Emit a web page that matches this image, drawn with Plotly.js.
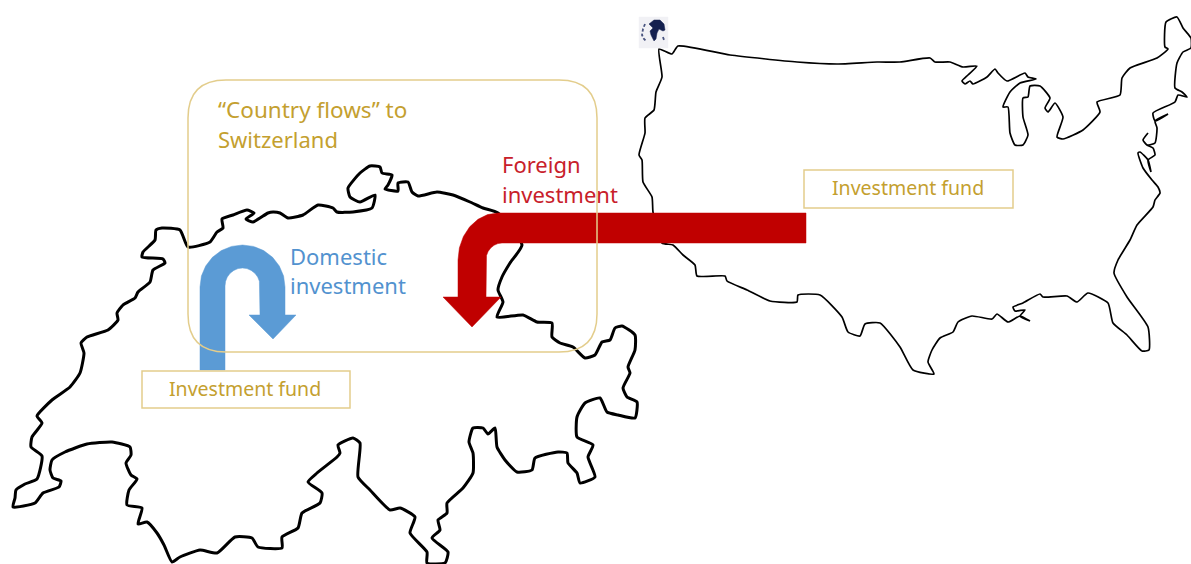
<!DOCTYPE html>
<html><head><meta charset="utf-8">
<script src="https://cdn.plot.ly/plotly-3.0.1.min.js"></script>
<style>html,body{margin:0;padding:0;background:#fff}#c{width:1191px;height:564px}</style>
</head><body><div id="c"></div>
<script>
const swissX=[13,15,16,25,37,42,31,32,42,37,52,70,80,84,81,87,108,118,117,123,135,138,150,153,165,163,142,143,155,156,162,180,188,210,217,223,222,233,247,254,246,253,268,273,280,288,303,318,333,337,353,372,375,360,350,348,360,370,380,382,392,388,385,398,398,408,412,418,437,453,470,483,498,522,510,502,498,503,497,523,537,552,552,560,573,585,595,602,610,615,622,635,635,628,630,623,627,637,635,618,607,600,585,577,577,593,588,595,580,577,568,567,558,535,532,517,505,497,495,488,483,473,469,473,473,463,447,447,438,440,432,448,445,427,427,410,415,400,390,370,358,360,353,338,340,337,317,308,322,320,302,298,282,282,258,252,235,217,200,180,172,164,157,147,138,142,127,129,137,131,126,131,130,112,87,65,52,50,53,61,59,43,35,13];
const swissY=[507,498,490,484,479,456,447,437,423,416,400,387,373,353,343,337,330,320,313,305,298,292,282,270,263,259,257,252,240,230,228,230,247,242,232,228,219,215,210,213,219,222,213,212,213,218,215,205,208,212,212,208,195,202,197,188,173,166,167,173,175,185,189,191,183,182,192,196,192,195,202,208,213,245,263,277,290,302,317,315,322,323,337,343,347,358,355,342,340,328,326,335,350,367,373,388,397,402,418,415,412,398,403,417,437,445,457,477,483,473,463,453,452,458,470,472,460,447,428,434,428,428,442,453,473,488,503,513,520,530,538,552,563,563,552,533,517,508,510,490,477,443,438,445,453,457,473,482,493,503,513,528,537,548,547,538,537,553,550,557,562,545,533,522,524,508,505,490,479,475,463,455,447,442,444,452,460,470,478,481,487,493,503,507];
const usaX=[659,672,678,730,797,837,877,900,930,935,950,963,977,968,962,965,970,973,987,995,998,1007,1025,1028,1036,1020,1010,1003,1008,1010,1015,1023,1028,1023,1023,1028,1030,1040,1050,1045,1048,1055,1063,1057,1063,1083,1100,1097,1120,1122,1130,1157,1168,1165,1166,1177,1183,1191,1191,1183,1177,1175,1182,1187,1178,1175,1153,1155,1168,1155,1157,1155,1147,1143,1148,1143,1147,1153,1155,1148,1151,1148,1140,1138,1143,1152,1158,1160,1155,1153,1137,1130,1118,1114,1127,1148,1149,1142,1127,1113,1108,1088,1077,1067,1043,1040,1023,1013,1015,1025,1020,1030,1020,1008,997,992,972,958,953,940,932,928,934,913,900,880,865,860,848,842,820,798,797,770,747,727,725,697,695,683,673,662,653,652,643,642,639,645,645,654,656,662,659];
const usaY=[49,54,46,55,62,64,62,62,58,62,62,67,66,75,81,84,81,84,77,69,73,81,73,77,79,83,92,107,107,133,145,145,135,117,98,97,86,86,98,108,112,103,117,137,139,130,112,102,95,78,68,58,49,47,22,17,28,38,48,52,63,88,92,97,95,102,113,121,114,121,128,143,145,140,133,140,145,148,155,160,172,160,152,153,168,180,187,193,200,207,225,240,260,273,297,327,350,351,335,323,303,293,302,296,297,294,303,307,311,310,316,321,316,322,314,319,316,322,332,338,350,362,374,370,347,323,324,336,332,317,295,295,302,301,290,281,276,276,265,255,245,243,212,197,182,160,155,133,118,110,92,77,49];
const blueArrowX=[200,200,201.4,205.7,212.4,221.3,231.5,242.5,253.5,263.7,272.6,279.3,283.6,285,285,296,273,249,260,260,259.4,257.7,254.9,251.2,247,242.5,238,233.8,230.1,227.3,225.6,225,225,200];
const blueArrowY=[370,287,276.1,266,257.3,250.6,246.4,245,246.4,250.6,257.3,266,276.1,287,315,315,339,315,315,286,281.3,277,273.3,270.4,268.6,268,268.6,270.4,273.3,277,281.3,286,370,370];
const redArrowX=[806,498,487.6,478,469.7,463.4,459.4,458,458,443,472,501,486,486,486.5,488.1,490.7,494,497.9,502,806,806];
const redArrowY=[213,213,214.6,219.3,226.8,236.5,247.8,260,297,297,327,297,297,260,255.6,251.5,248,245.3,243.6,243,243,213];
const globeBgX=[639,668,668,639,639];
const globeBgY=[17,17,48,48,17];
const globeX=[649,654,660,664,665,663,659,657,656,654,651,650,653,649];
const globeY=[24,20,20,24,30,31,29,33,39,41,35,31,28,24];
const globeSpeckX=[645,643,642,644,646];
const globeSpeckY=[24,29,35,39,41];
const globeDotX=[663,664];
const globeDotY=[37,40];
const flowLines=["“Country flows” to","Switzerland"];
const foreignLines=["Foreign","investment"];
const domesticLines=["Domestic","investment"];
const fundLabel="Investment fund";
const gold="#C4A02F", boxGold="#E3CD8C", red="#C8202A", blue="#5292CF";

const line=(x,y,w)=>({x,y,mode:'lines',line:{color:'#000',width:w,shape:'spline',smoothing:0.5},hoverinfo:'skip',showlegend:false});
const fill=(x,y,c)=>({x,y,mode:'lines',fill:'toself',fillcolor:c,line:{color:c,width:0.5},hoverinfo:'skip',showlegend:false});
const speck=(x,y)=>({x,y,mode:'lines',line:{color:'#4A5580',width:1.8,dash:'3px,2px'},hoverinfo:'skip',showlegend:false});
const data=[
  line(swissX,swissY,3),
  line(usaX,usaY,1.7),
  fill(globeBgX,globeBgY,'#F1F1F5'),
  fill(globeX,globeY,'#14204F'),
  speck(globeSpeckX,globeSpeckY),
  speck(globeDotX,globeDotY),
  fill(blueArrowX,blueArrowY,'#5B9BD5'),
  fill(redArrowX,redArrowY,'#C00000')
];
const txt=(x,y,t,c,anchor,ls)=>({x,y,xref:'x',yref:'y',text:t,showarrow:false,xanchor:anchor,yanchor:'middle',align:anchor==='center'?'center':'left',font:{family:'"Noto Sans", Lato, sans-serif',size:ls,color:c}});
const layout={
  width:1191,height:564,margin:{l:0,r:0,t:0,b:0},paper_bgcolor:'#fff',plot_bgcolor:'#fff',showlegend:false,
  xaxis:{range:[0,1191],visible:false,fixedrange:true},
  yaxis:{range:[564,0],visible:false,fixedrange:true},
  shapes:[
    {type:'path',xref:'x',yref:'y',path:'M226,80 L559,80 Q597,80 597,118 L597,314 Q597,352 559,352 L226,352 Q188,352 188,314 L188,118 Q188,80 226,80 Z',line:{color:boxGold,width:1.5},fillcolor:'rgba(0,0,0,0)',layer:'above'},
    {type:'rect',xref:'x',yref:'y',x0:142,x1:350,y0:371,y1:408,line:{color:boxGold,width:1.5},fillcolor:'#fff',layer:'above'},
    {type:'rect',xref:'x',yref:'y',x0:804,x1:1013,y0:170,y1:208,line:{color:boxGold,width:1.5},fillcolor:'#fff',layer:'above'}
  ],
  annotations:[
    txt(216,109,flowLines[0],gold,'left',22.5),
    txt(216,139,flowLines[1],gold,'left',22),
    txt(500,164,foreignLines[0],red,'left',22),
    txt(500,194,foreignLines[1],red,'left',22),
    txt(288,256,domesticLines[0],blue,'left',22),
    txt(288,285,domesticLines[1],blue,'left',22),
    txt(245,388,fundLabel,gold,'center',19.5),
    txt(908,187,fundLabel,gold,'center',19.5)
  ]
};
Plotly.newPlot('c',data,layout,{displayModeBar:false,staticPlot:true});
</script></body></html>
